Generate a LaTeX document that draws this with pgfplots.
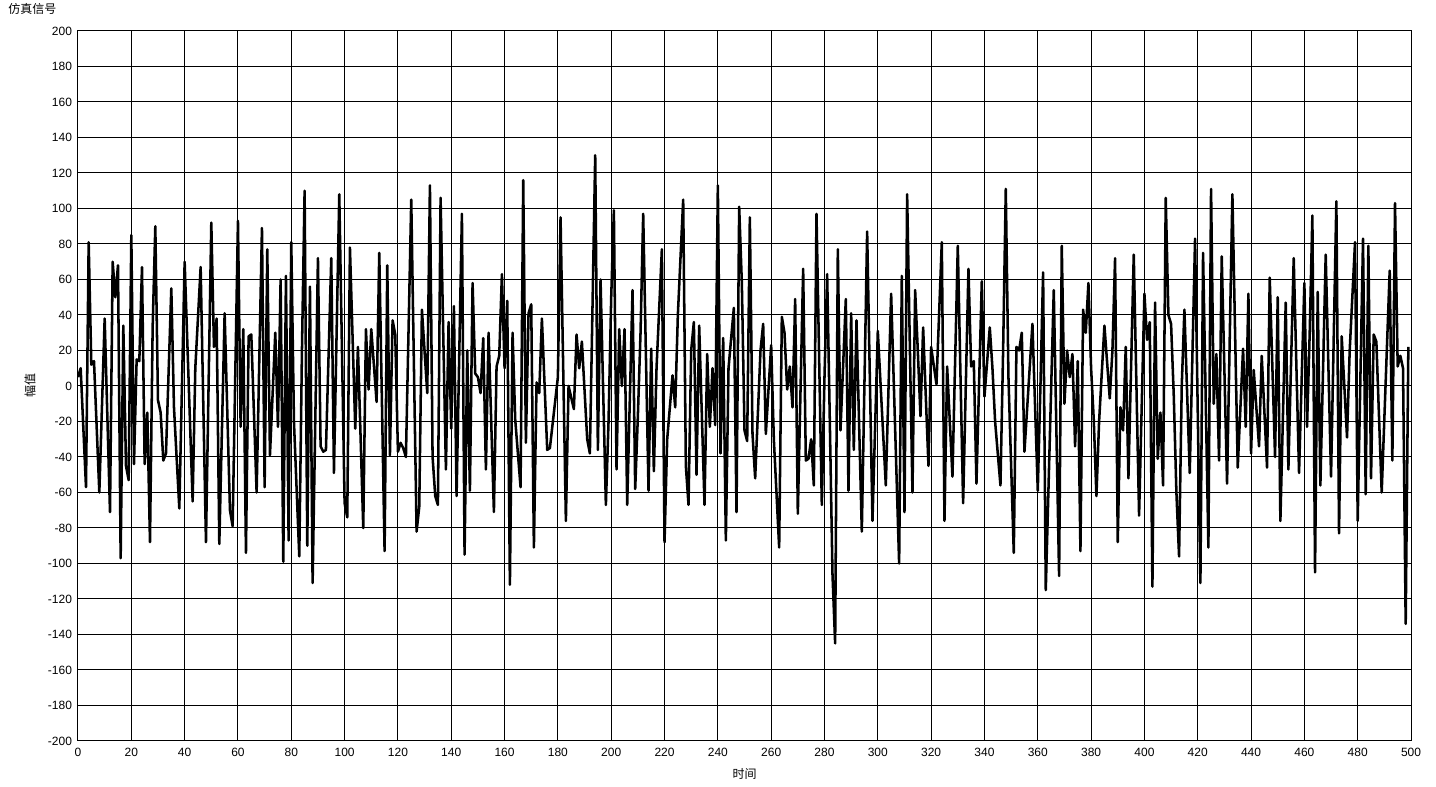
\documentclass[border=0pt]{standalone}
\usepackage{fontspec}
\setmainfont{Liberation Sans}
\newfontfamily\cjk{Noto Sans CJK SC}
\usepackage{pgfplots}
\usepackage{pgfplotstable}
\pgfplotsset{compat=1.18}
\pgfplotstableread{
x y
0 5
1 10
3 -57
4 81
5 12
6 14
8 -60
10 38
12 -71
13 70
14 50
15 68
16 -97
17 34
18 -45
19 -53
20 85
21 -44
22 15
23 14
24 67
25 -44
26 -15
27 -88
28 33
29 90
30 -8
31 -15
32 -42
33 -38
35 55
36 -12
38 -69
40 70
41 25
43 -65
44 10
46 67
48 -88
50 92
51 22
52 38
53 -89
55 41
57 -70
58 -79
60 93
61 -23
62 32
63 -94
64 28
65 29
67 -60
69 89
70 -57
71 77
72 -39
74 30
75 -23
76 60
77 -99
78 62
79 -87
80 81
81 -20
83 -96
84 20
85 110
86 -90
87 56
88 -111
89 -20
90 72
91 -34
92 -37
93 -36
95 72
96 -49
98 108
100 -66
101 -74
102 78
104 -24
105 22
107 -80
108 32
109 -2
110 32
112 -9
113 75
115 -93
116 68
117 -39
118 37
119 29
120 -37
121 -32
122 -35
123 -40
125 105
127 -82
128 -68
129 43
131 -4
132 113
133 -40
134 -62
135 -67
136 106
138 -47
139 36
140 -24
141 45
142 -62
144 97
145 -95
146 20
147 -59
148 58
149 7
150 5
151 -4
152 27
153 -47
154 30
156 -71
157 11
158 17
159 63
160 10
161 48
162 -112
163 30
164 -19
166 -57
167 116
168 -32
169 41
170 46
171 -91
172 2
173 -4
174 38
176 -36
177 -35
180 5
181 95
183 -76
184 0
186 -13
187 29
188 10
189 25
191 -30
192 -38
194 130
195 -36
196 60
198 -67
199 -20
200 50
201 99
202 -47
203 32
204 0
205 32
206 -67
208 54
209 -58
210 -17
211 30
212 97
214 -59
215 21
216 -48
217 10
219 77
220 -88
221 -30
223 6
224 -12
225 40
227 105
228 -45
229 -67
230 20
231 36
232 -50
233 34
235 -67
236 18
237 -23
238 10
239 -22
240 113
241 -38
242 27
243 -87
244 10
246 44
247 -71
248 101
249 58
250 -25
251 -31
252 95
253 -27
254 -52
256 20
257 35
258 -27
260 23
261 -30
263 -91
264 39
265 30
266 -2
267 11
268 -12
269 49
270 -72
272 66
273 -42
274 -41
275 -30
276 -56
277 97
279 -67
280 5
281 63
282 -20
283 -106
284 -145
285 77
286 -25
288 49
289 -59
290 41
291 -36
292 37
294 -82
296 87
298 -76
300 31
303 -56
305 52
308 -100
309 62
310 -71
311 108
313 -60
314 54
315 20
316 -17
317 33
319 -45
320 22
322 1
324 81
325 -76
326 11
328 -51
330 79
332 -66
334 66
335 11
336 14
337 -55
339 59
340 -6
342 33
343 10
344 -20
346 -56
347 20
348 111
349 5
351 -94
352 22
353 20
354 30
355 -37
358 35
360 -59
361 0
362 64
363 -115
366 54
368 -107
369 79
370 -10
371 20
372 5
373 18
374 -34
375 14
376 -93
377 43
378 30
379 58
380 10
381 -19
382 -62
383 -20
385 34
387 -7
388 20
389 72
390 -88
391 -12
392 -25
393 22
394 -52
396 74
398 -73
400 52
401 26
402 36
403 -113
404 47
405 -41
406 -15
407 -56
408 106
409 40
410 35
411 -5
412 -60
413 -96
414 0
415 43
417 -49
419 83
421 -111
422 75
424 -91
425 111
426 -10
427 18
428 -42
429 73
431 -55
433 108
435 -46
437 21
438 -23
439 52
440 -38
441 9
443 -34
444 17
446 -46
447 61
449 -40
450 50
451 -76
453 47
454 -47
456 72
458 -49
460 58
461 -23
462 30
463 96
464 -105
465 53
466 -56
468 74
470 -51
472 104
473 -83
474 28
476 -29
477 20
479 81
480 -76
482 83
483 -61
484 79
485 -52
486 29
487 25
489 -60
492 65
493 -42
494 103
495 11
496 17
497 10
498 -134
499 22
}\signal
\begin{document}
\begin{tikzpicture}
\begin{axis}[
  name=ax,
  scale only axis,
  width=999.75pt, height=532.5pt,
  xmin=0, xmax=500, ymin=-200, ymax=200,
  xtick distance=20, ytick distance=20,
  grid=major,
  grid style={black, line width=0.75pt},
  axis line style={black, line width=0.75pt},
  major tick length=0pt,
  tick label style={font=\fontsize{9}{10}\selectfont, black},
  /pgf/number format/assume math mode=true,
  /pgf/number format/1000 sep={},
  xticklabel style={yshift=-2pt},
  yticklabel style={xshift=-1pt},
  xlabel={\cjk 时间},
  xlabel style={font=\fontsize{9}{10}\selectfont, yshift=-2pt},
]
\addplot[black, line width=1.9pt, line join=round, mark=none] table[x=x,y=y] {\signal};
\end{axis}
\node[anchor=west, font=\cjk\fontsize{9}{10}\selectfont, inner sep=0pt] at ([xshift=-52.5pt,yshift=16.5pt]ax.north west) {仿真信号};
\node[font=\cjk\fontsize{9}{10}\selectfont, inner sep=0pt, rotate=90] at ([xshift=-36pt]ax.west) {幅值};
\pgfresetboundingbox
\path[use as bounding box] ([xshift=-58.5pt,yshift=-34.5pt]ax.south west) rectangle ([xshift=18.75pt,yshift=23.25pt]ax.north east);
\end{tikzpicture}
\end{document}
